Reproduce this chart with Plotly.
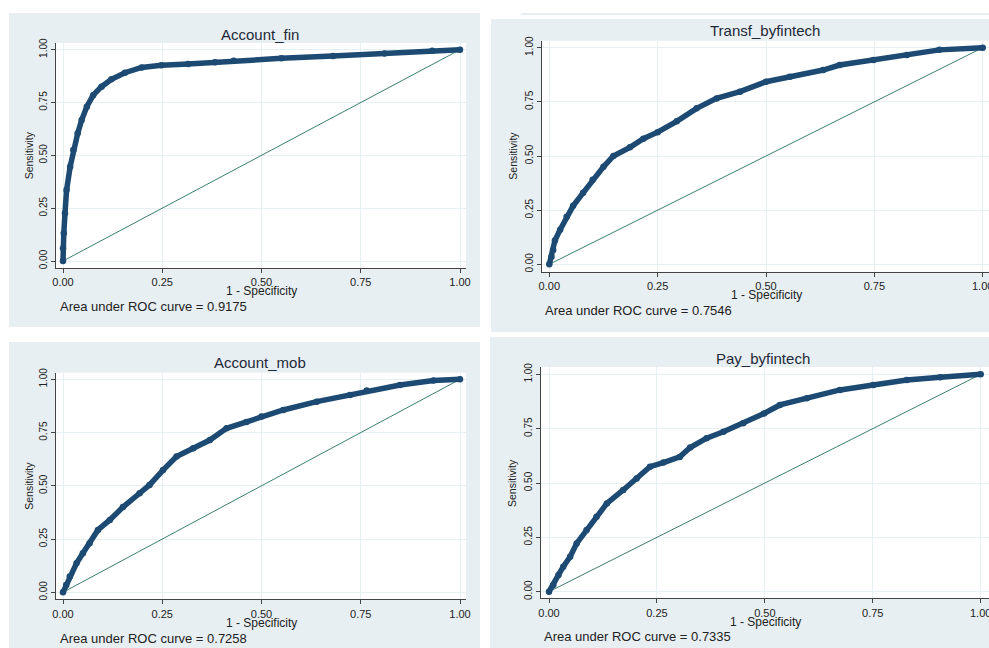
import plotly.graph_objects as go

W, H = 989, 648

# ---- data ----
titles = ["Account_fin", "Transf_byfintech", "Account_mob", "Pay_byfintech"]
auc_labels = ["0.9175", "0.7546", "0.7258", "0.7335"]
tick_vals = [0, 0.25, 0.5, 0.75, 1]
tick_text = ["0.00", "0.25", "0.50", "0.75", "1.00"]

fin_x = [0, 0.0, 0.002, 0.005, 0.009, 0.018, 0.026, 0.037, 0.047, 0.06, 0.076, 0.097, 0.122,
         0.156, 0.198, 0.248, 0.315, 0.383, 0.43, 0.55, 0.68, 0.81, 0.93, 1.0]
fin_y = [0, 0.06, 0.131, 0.226, 0.336, 0.446, 0.525, 0.604, 0.667, 0.73, 0.785, 0.825, 0.86,
         0.891, 0.916, 0.926, 0.932, 0.941, 0.948, 0.959, 0.97, 0.982, 0.995, 1.0]

transf_x = [0, 0.005, 0.009, 0.013, 0.025, 0.04, 0.055, 0.078, 0.10, 0.125, 0.148, 0.186, 0.217,
            0.25, 0.294, 0.34, 0.386, 0.44, 0.50, 0.555, 0.632, 0.67, 0.748, 0.825, 0.90, 1.0]
transf_y = [0, 0.035, 0.066, 0.11, 0.16, 0.22, 0.27, 0.33, 0.39, 0.45, 0.50, 0.54, 0.58,
            0.61, 0.66, 0.72, 0.766, 0.797, 0.843, 0.866, 0.897, 0.92, 0.943, 0.966, 0.99, 1.0]

mob_x = [0, 0.008, 0.017, 0.034, 0.05, 0.067, 0.088, 0.118, 0.151, 0.193, 0.218, 0.252, 0.286,
         0.328, 0.37, 0.412, 0.462, 0.50, 0.555, 0.639, 0.723, 0.765, 0.849, 0.933, 1.0]
mob_y = [0, 0.034, 0.074, 0.136, 0.183, 0.23, 0.293, 0.34, 0.40, 0.465, 0.504, 0.574, 0.637,
         0.676, 0.715, 0.77, 0.80, 0.825, 0.856, 0.895, 0.926, 0.947, 0.973, 0.994, 1.0]

pay_x = [0, 0.01, 0.022, 0.033, 0.049, 0.064, 0.087, 0.11, 0.134, 0.172, 0.203, 0.234, 0.265,
         0.303, 0.327, 0.365, 0.404, 0.45, 0.498, 0.535, 0.597, 0.674, 0.751, 0.829, 0.906, 1.0]
pay_y = [0, 0.031, 0.077, 0.115, 0.161, 0.222, 0.284, 0.345, 0.406, 0.468, 0.521, 0.575, 0.594,
         0.62, 0.663, 0.706, 0.736, 0.775, 0.82, 0.859, 0.89, 0.928, 0.951, 0.974, 0.986, 1.0]

ref_x = [0, 1]
ref_y = [0, 1]

curves = [(fin_x, fin_y), (transf_x, transf_y), (mob_x, mob_y), (pay_x, pay_y)]

# ---- layout geometry (pixels) ----
panels = [(9, 13, 480, 327), (491, 19, 989, 332), (9, 342, 480, 648), (490, 337, 989, 648)]
plots = [
    dict(l=56, t=43, r=466, b=268, x0=63, x1=460, y1=49.7, y0=261),
    dict(l=541.7, t=40.7, r=989, b=271.7, x0=549.3, x1=982.7, y1=47.7, y0=264.3),
    dict(l=56, t=372.7, r=466, b=599.3, x0=63, x1=460, y1=379.3, y0=592.3),
    dict(l=540.7, t=367, r=989, b=598.3, x0=549, x1=980.7, y1=374.3, y0=591.7),
]
title_pos = [(260, 34), (765, 31), (260, 362), (763, 358)]
xtitle_pos = [(261, 291), (766, 295), (261, 623), (765, 622)]
auc_pos = [(57.7, 306), (543.3, 310), (57.7, 638.3), (542.3, 636.7)]
ytitle_x = [29, 512.7, 29, 512]

NAVY = "#1c4a72"
REF = "#3b7f70"
BG = "#e8eff2"
GRID = "#e6eff1"
TXT = "#222222"
FONT = "Liberation Sans, Arial, sans-serif"

fig = go.Figure()
shapes = []
annotations = []

def px(x):
    return x / W

def py(y):
    return 1 - y / H

for i in range(4):
    x0, y0, x1, y1 = panels[i]
    shapes.append(dict(type="rect", xref="paper", yref="paper", x0=px(x0), x1=px(x1),
                       y0=py(y1), y1=py(y0), fillcolor=BG, line=dict(width=0), layer="below"))
shapes.append(dict(type="rect", xref="paper", yref="paper", x0=px(521), x1=px(989),
                   y0=py(15), y1=py(13.3), fillcolor="#e4ecef", line=dict(width=0), layer="below"))

for i in range(4):
    p = plots[i]
    shapes.append(dict(type="rect", xref="paper", yref="paper", x0=px(p["l"]), x1=px(p["r"]),
                       y0=py(p["b"]), y1=py(p["t"]), fillcolor="white", line=dict(width=0),
                       layer="below"))
    ux = p["x1"] - p["x0"]
    uy = p["y0"] - p["y1"]
    xr = [(p["l"] - p["x0"]) / ux, (p["r"] - p["x0"]) / ux]
    yr = [-(p["b"] - p["y0"]) / uy, 1 + (p["y1"] - p["t"]) / uy]
    n = "" if i == 0 else str(i + 1)
    xa = dict(domain=[px(p["l"]), px(p["r"])], range=xr, anchor="y" + n,
              tickvals=tick_vals, ticktext=tick_text, showgrid=True, gridcolor=GRID, gridwidth=1,
              zeroline=False, showline=True, linecolor="#444444", linewidth=1,
              ticks="outside", ticklen=4, tickcolor="#444444", ticklabeloverflow="allow",
              tickfont=dict(family=FONT, size=11, color=TXT), automargin=False, fixedrange=True)
    ya = dict(domain=[py(p["b"]), py(p["t"])], range=yr, anchor="x" + n,
              tickvals=tick_vals, ticktext=tick_text, showgrid=True, gridcolor=GRID, gridwidth=1,
              zeroline=False, showline=True, linecolor="#444444", linewidth=1,
              ticks="outside", ticklen=4, tickcolor="#444444", tickangle=-90,
              ticklabeloverflow="allow",
              tickfont=dict(family=FONT, size=10, color=TXT), automargin=False, fixedrange=True)
    fig.update_layout(**{"xaxis" + n: xa, "yaxis" + n: ya})

    cx, cy = curves[i]
    fig.add_trace(go.Scatter(x=ref_x, y=ref_y, mode="lines", line=dict(color=REF, width=1),
                             xaxis="x" + n, yaxis="y" + n, showlegend=False, hoverinfo="skip"))
    fig.add_trace(go.Scatter(x=cx, y=cy, mode="lines+markers",
                             line=dict(color=NAVY, width=5.5),
                             marker=dict(color=NAVY, size=6.5),
                             xaxis="x" + n, yaxis="y" + n, showlegend=False,
                             cliponaxis=False))

    annotations.append(dict(text=titles[i], x=px(title_pos[i][0]), y=py(title_pos[i][1]),
                            xref="paper", yref="paper", showarrow=False, xanchor="center",
                            yanchor="middle", font=dict(family=FONT, size=15, color="#1e2a38")))
    annotations.append(dict(text="1 - Specificity", x=px(xtitle_pos[i][0]), y=py(xtitle_pos[i][1]),
                            xref="paper", yref="paper", showarrow=False, xanchor="center",
                            yanchor="middle", font=dict(family=FONT, size=12, color=TXT)))
    annotations.append(dict(text="Area under ROC curve = " + auc_labels[i], x=px(auc_pos[i][0]),
                            y=py(auc_pos[i][1]), xref="paper", yref="paper", showarrow=False,
                            xanchor="left", yanchor="middle",
                            font=dict(family=FONT, size=13, color=TXT)))
    ymid = (p["y0"] + p["y1"]) / 2
    annotations.append(dict(text="Sensitivity", x=px(ytitle_x[i]), y=py(ymid), textangle=-90,
                            xref="paper", yref="paper", showarrow=False, xanchor="center",
                            yanchor="middle", font=dict(family=FONT, size=10.5, color=TXT)))

fig.update_layout(width=W, height=H, margin=dict(l=0, r=0, t=0, b=0),
                  paper_bgcolor="white", plot_bgcolor="white",
                  shapes=shapes, annotations=annotations, showlegend=False)

fig.write_html("out.html", config={"displayModeBar": False},
               post_script="document.body.style.margin='0';document.body.style.overflow='hidden';")
